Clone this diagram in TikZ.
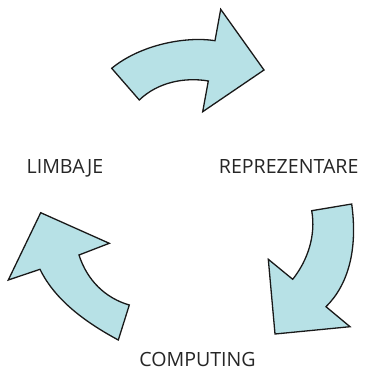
\documentclass[tikz,border=0pt]{standalone}
\usepackage{fontspec}
\setmainfont{Open Sans}
\definecolor{arrowfill}{RGB}{183,225,230}
\begin{document}
\begin{tikzpicture}[x=1pt,y=-1pt,
  bigarrow/.style={draw=black!90,line width=1.3pt,fill=arrowfill,line join=miter},
  lbl/.style={font=\fontsize{19.6}{22}\selectfont,text=black!85,anchor=base,inner sep=0pt}]
\useasboundingbox (0,0) rectangle (365,371);
% top arrow
\path[bigarrow] (111.7,68.3) .. controls (140,45) and (185,36) .. (215,40.7)
  -- (220.7,9.3) -- (264,70) -- (202.7,111.7) -- (208.3,81)
  .. controls (185,77) and (158,82) .. (139.3,100) -- cycle;
% right arrow
\path[bigarrow] (311.7,210.7) -- (351.7,204)
  .. controls (358,250) and (348,285) .. (326,306.7)
  -- (350,326.7) -- (275,334) -- (268.3,259.3) -- (292.7,279.3)
  .. controls (308,260) and (316,235) .. (311.7,210.7) -- cycle;
% left arrow
\path[bigarrow] (40.7,212.7) -- (109.3,243.3) -- (79,255)
  .. controls (87,280) and (105,298) .. (129.3,305)
  -- (118.3,340)
  .. controls (85,322) and (55,300) .. (40,269.3)
  -- (8.3,280) -- cycle;
\node[lbl] (limbaje) at (65,174) {LIMBAJE};
\node[lbl] (repr) at (288.7,174) {REPREZENTARE};
\node[lbl] (comp) at (197.5,366.5) {COMPUTING};
\end{tikzpicture}
\end{document}
